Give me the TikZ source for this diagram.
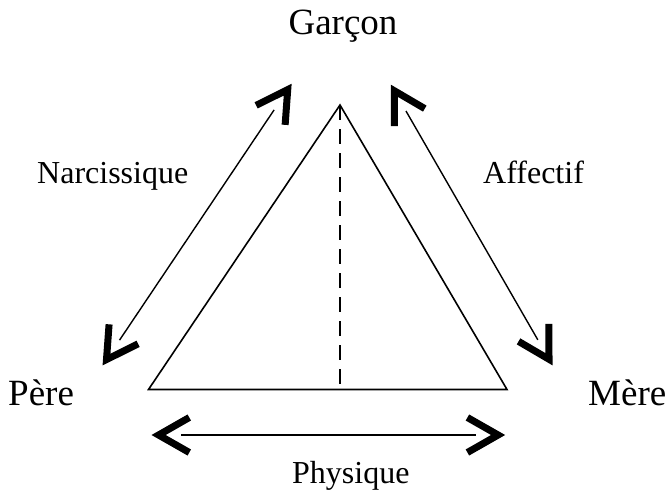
\documentclass[tikz,border=0pt]{standalone}
\usepackage{fontspec}
\setmainfont{Liberation Serif}
\usetikzlibrary{calc}
\newcommand\chevat[2]{%
  \draw[chevron] ($(#1)!43pt!24:(#2)$) -- ($(#1)!8.6pt!(#2)$) -- ($(#1)!43pt!-24:(#2)$);}
\begin{document}
\begin{tikzpicture}[x=1pt,y=-1pt,
  big/.style={inner sep=0pt,font=\fontsize{37}{40}\selectfont},
  small/.style={inner sep=0pt,font=\fontsize{32}{36}\selectfont},
  thinline/.style={line width=1.4pt},
  chevron/.style={line width=7pt,miter limit=10,line join=miter,line cap=butt}]
\useasboundingbox (0,0) rectangle (668,492);
% labels
\node[big,anchor=base] (garcon) at (343,35) {Garçon};
\node[big,anchor=base west] (pere) at (8,405) {Père};
\node[big,anchor=base west] (mere) at (588,405) {Mère};
\node[small,anchor=base west] (narc) at (37,183) {Narcissique};
\node[small,anchor=base west] (aff) at (483,183) {Affectif};
\node[small,anchor=base west] (phys) at (292,483) {Physique};
% triangle
\coordinate (A) at (340,105);
\coordinate (B) at (148.5,389.5);
\coordinate (C) at (507,389.5);
\coordinate (F) at (340,389.5);
\draw[thinline,line width=1.6pt,line join=miter] (A) -- (B) -- (C) -- cycle;
\draw[thinline,line width=1.8pt,dash pattern=on 15pt off 9pt] (A) -- (F);
% arrow tips
\coordinate (nt) at (292.5,82.5);
\coordinate (nb) at (101.7,366.7);
\coordinate (at) at (390,83.3);
\coordinate (ab) at (553.3,366.7);
\coordinate (pl) at (150,435);
\coordinate (pr) at (506.7,435);
% shafts
\draw[thinline] ($(nt)!33pt!(nb)$) -- ($(nb)!32pt!(nt)$);
\draw[thinline] ($(at)!32pt!(ab)$) -- ($(ab)!31pt!(at)$);
\draw[thinline] ($(pl)!31pt!(pr)$) -- ($(pr)!31pt!(pl)$);
% heads
\chevat{nt}{nb}\chevat{nb}{nt}
\chevat{at}{ab}\chevat{ab}{at}
\chevat{pl}{pr}\chevat{pr}{pl}
\end{tikzpicture}
\end{document}
